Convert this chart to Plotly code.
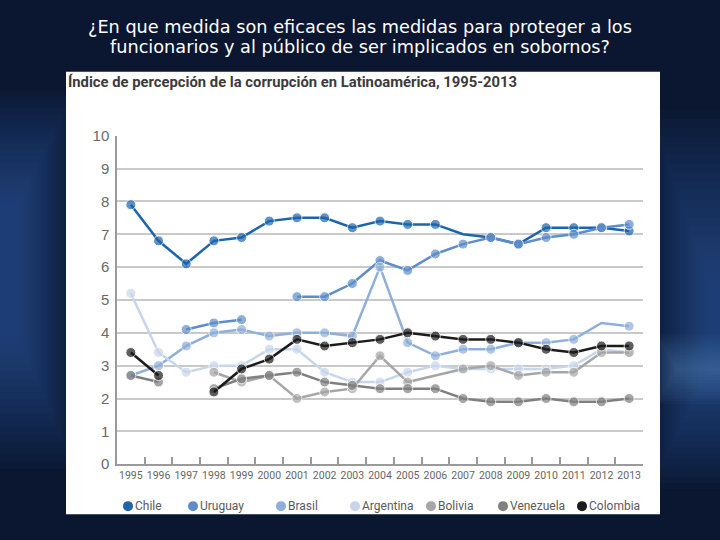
import plotly.graph_objects as go

years = [str(y) for y in range(1995, 2014)]

chile     = [7.9, 6.8, 6.1, 6.8, 6.9, 7.4, 7.5, 7.5, 7.2, 7.4, 7.3, 7.3, 7.0, 6.9, 6.7, 7.2, 7.2, 7.2, 7.1]
uruguay   = [None, None, 4.1, 4.3, 4.4, None, 5.1, 5.1, 5.5, 6.2, 5.9, 6.4, 6.7, 6.9, 6.7, 6.9, 7.0, 7.2, 7.3]
brasil    = [2.7, 3.0, 3.6, 4.0, 4.1, 3.9, 4.0, 4.0, 3.9, 6.0, 3.7, 3.3, 3.5, 3.5, 3.7, 3.7, 3.8, 4.3, 4.2]
argentina = [5.2, 3.4, 2.8, 3.0, 3.0, 3.5, 3.5, 2.8, 2.5, 2.5, 2.8, 3.0, 2.9, 2.9, 2.9, 2.9, 3.0, 3.5, 3.4]
bolivia   = [None, None, None, 2.8, 2.5, 2.7, 2.0, 2.2, 2.3, 3.3, 2.5, 2.7, 2.9, 3.0, 2.7, 2.8, 2.8, 3.4, 3.4]
venezuela = [2.7, 2.5, None, 2.3, 2.6, 2.7, 2.8, 2.5, 2.4, 2.3, 2.3, 2.3, 2.0, 1.9, 1.9, 2.0, 1.9, 1.9, 2.0]
colombia  = [3.4, 2.7, None, 2.2, 2.9, 3.2, 3.8, 3.6, 3.7, 3.8, 4.0, 3.9, 3.8, 3.8, 3.7, 3.5, 3.4, 3.6, 3.6]

series_names = ["Chile", "Uruguay", "Brasil", "Argentina", "Bolivia", "Venezuela", "Colombia"]
series_vals = [chile, uruguay, brasil, argentina, bolivia, venezuela, colombia]
colors = ["#1c65ad", "#5d8dca", "#8fafdb", "#c8d6ec", "#a6a6a6", "#808080", "#1b1b1b"]
# years plotted without a dot in the original
no_marker = {"Chile": ["2007"], "Brasil": ["2012"], "Bolivia": ["2006"]}

W, H = 720, 540
def px(x): return x / W
# vertical positions corrected for the slight vertical squeeze seen in the capture
def py(y): return 1 - ((y - 9.1) / 0.97) / H

fig = go.Figure()
for name, vals, col in zip(series_names, series_vals, colors):
    sizes = [0 if y in no_marker.get(name, []) else 10 for y in years]
    fig.add_trace(go.Scatter(
        x=years, y=vals, name=name, mode="lines+markers",
        line=dict(color=col, width=2.5), marker=dict(color=col, size=sizes),
        connectgaps=False, showlegend=False))

shapes = []
# soft background glow built from many faint nested rectangles
n = 20
for i in range(n):
    shapes.append(dict(type="rect", xref="paper", yref="paper",
                       x0=0, x1=px(75 - i * 3), y0=py(470 - i * 7), y1=py(90 + i * 6),
                       fillcolor="#3a7cbc", opacity=0.035, line_width=0, layer="below"))
    shapes.append(dict(type="rect", xref="paper", yref="paper",
                       x0=px(650 + i * 3), x1=1, y0=py(490 - i * 6), y1=py(110 + i * 9),
                       fillcolor="#3a7cbc", opacity=0.035, line_width=0, layer="below"))
for i in range(12):
    shapes.append(dict(type="rect", xref="paper", yref="paper",
                       x0=px(655 + i * 2), x1=1, y0=py(405 - i * 3), y1=py(335 + i * 3),
                       fillcolor="#5a9ad6", opacity=0.04, line_width=0, layer="below"))
# white chart panel
shapes.append(dict(type="rect", xref="paper", yref="paper", x0=px(66), x1=px(660), y0=py(515), y1=py(72),
                   fillcolor="white", line_width=0, layer="below"))

annotations = [
    dict(text="¿En que medida son eficaces las medidas para proteger a los",
         xref="paper", yref="paper", x=0.5, y=py(27), xanchor="center", yanchor="middle",
         showarrow=False, font=dict(family="DejaVu Sans", size=17.7, color="white")),
    dict(text="funcionarios y al público de ser implicados en sobornos?",
         xref="paper", yref="paper", x=0.5, y=py(47), xanchor="center", yanchor="middle",
         showarrow=False, font=dict(family="DejaVu Sans", size=17.7, color="white")),
    dict(text="<b>Índice de percepción de la corrupción en Latinoamérica, 1995-2013</b>",
         xref="paper", yref="paper", x=px(66), y=py(82), xanchor="left", yanchor="middle",
         showarrow=False, font=dict(family="Roboto", size=14.8, color="#3b3b3b")),
]

legend_x = [128, 193, 281, 355, 431, 503, 582]
for name, col, lx in zip(series_names, colors, legend_x):
    shapes.append(dict(type="circle", xref="paper", yref="paper",
                       x0=px(lx - 5), x1=px(lx + 5), y0=py(512), y1=py(502),
                       fillcolor=col, line_width=0))
    annotations.append(dict(text=name, xref="paper", yref="paper", x=px(lx + 5), y=py(507),
                            xanchor="left", yanchor="middle", showarrow=False,
                            font=dict(family="Roboto", size=12, color="#5a5a5a")))

fig.update_layout(
    width=W, height=H, margin=dict(l=0, r=0, t=0, b=0),
    paper_bgcolor="#0b1630", plot_bgcolor="white",
    shapes=shapes, annotations=annotations,
    xaxis=dict(domain=[px(117), px(643)], type="category", range=[-0.5, 18.5],
               showgrid=False, showline=True, linecolor="#9a9a9a", linewidth=1.5,
               ticks="inside", tickson="boundaries", ticklen=7, tickcolor="#9a9a9a", tickwidth=1.5,
               tickangle=0,
               tickfont=dict(family="Roboto", size=10.5, color="#666666"),
               zeroline=False, fixedrange=True),
    yaxis=dict(domain=[py(465), py(136)], range=[0, 10], dtick=1,
               showgrid=True, gridcolor="#c9c9c9", gridwidth=1.5,
               showline=True, linecolor="#9a9a9a", linewidth=1.5,
               ticks="", ticklabelstandoff=3,
               tickfont=dict(family="Liberation Sans", size=15, color="#6a6a6a"),
               zeroline=False),
)

fig.write_html("out.html")
